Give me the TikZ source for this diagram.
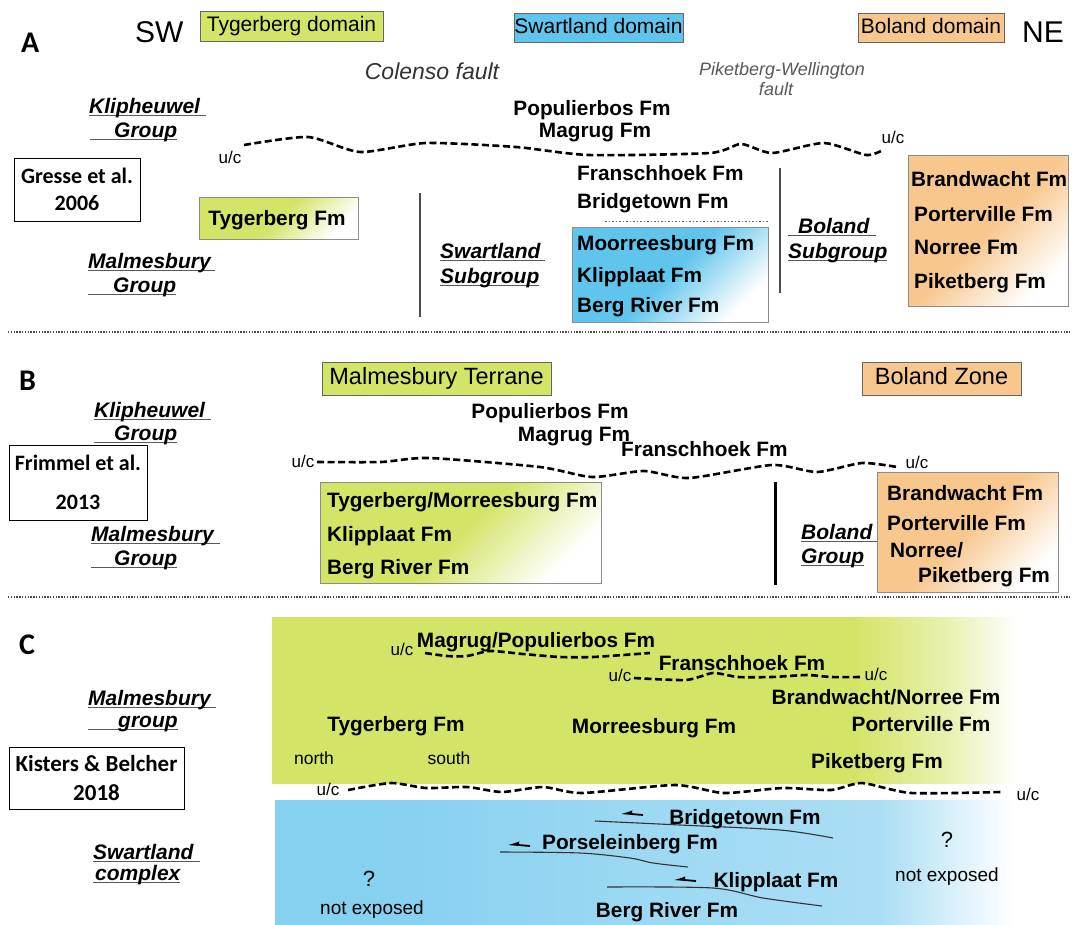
\documentclass[tikz,border=0pt]{standalone}
\usepackage{fontspec}
\setmainfont{Liberation Sans}
\newfontfamily\calfont{Carlito}
\usetikzlibrary{arrows.meta}
\definecolor{tgreen}{RGB}{212,228,102}
\definecolor{sblue}{RGB}{96,197,236}
\definecolor{cblue}{RGB}{134,208,240}
\definecolor{borange}{RGB}{248,199,142}
\pgfdeclarehorizontalshading{greenfade}{100bp}{color(0bp)=(tgreen); color(64bp)=(tgreen); color(70bp)=(tgreen!55!white); color(75bp)=(white); color(100bp)=(white)}
\pgfdeclarehorizontalshading{bluefade}{100bp}{color(0bp)=(cblue); color(32bp)=(cblue); color(52bp)=(cblue!80!white); color(66bp)=(cblue!70!white); color(75bp)=(white); color(100bp)=(white)}
\newcommand\undl[1]{\setbox0\hbox{#1}\rlap{\color{black!65}\rule[-0.16em]{\wd0}{1.3pt}}\box0}

\begin{document}
\begin{tikzpicture}[x=1pt, y=-1pt,
	fm/.style={font=\fontsize{20.8}{24}\selectfont\bfseries, inner sep=0pt},
	grp/.style={font=\fontsize{21}{24}\selectfont\bfseries\itshape, inner sep=0pt, anchor=base west},
	uc/.style={font=\fontsize{17}{20}\selectfont, inner sep=0pt, anchor=base},
	panel/.style={font=\calfont\bfseries\fontsize{30}{36}\selectfont, inner sep=0pt, anchor=base west},
	dir/.style={font=\fontsize{30}{36}\selectfont, inner sep=0pt, anchor=base west},
	dom/.style={draw=black!60, line width=1pt, text height=15pt, text depth=4pt, inner sep=0pt, font=\fontsize{21}{24}\selectfont},
	cite/.style={draw, line width=0.9pt, align=center, inner sep=0pt, font=\calfont\bfseries\fontsize{22}{27}\selectfont},
	fmbox/.style={draw=black!45, line width=0.8pt, top color=#1, bottom color=white, middle color=#1, shading angle=45},
	unc/.style={line width=2.6pt, dash pattern=on 7pt off 3.5pt},
	secsep/.style={black!70, line width=1.3pt, dash pattern=on 1.4pt off 1.4pt},
	thrust/.style={black!80, line width=1.1pt},
	shear/.style={line width=1.8pt, -{Latex[harpoon,swap,length=9pt,width=8pt]}}]
\fill[white] (0,0) rectangle (1073,924);
\useasboundingbox (0,0) rectangle (1073,924);

% A: Gresse et al. 2006
\node[panel] (pa) at (21,52) {A};
\node[dir] (sw) at (135,42) {SW};
\node[dir] (ne) at (1022,42) {NE};
\node[dom, fill=tgreen, minimum width=183pt, minimum height=30pt] (tdom) at (291.5,26) {Tygerberg domain};
\node[dom, fill=sblue, minimum width=169pt, minimum height=29pt] (sdom) at (598.5,27.5) {Swartland domain};
\node[dom, fill=borange, minimum width=146pt, minimum height=29pt] (bdom) at (931,27.5) {Boland domain};
\node[inner sep=0pt, anchor=base, font=\fontsize{23}{27}\selectfont\itshape, black!80] (colenso) at (432,79) {Colenso fault};
\node[inner sep=0pt, anchor=base, font=\fontsize{18}{21}\selectfont\itshape, black!65] (pwf) at (782,75) {Piketberg-Wellington};
\node[inner sep=0pt, anchor=base, font=\fontsize{18}{21}\selectfont\itshape, black!65] (pwfb) at (776,95) {fault};
\node[grp] (kwa) at (89,113) {\undl{Klipheuwel\hspace{6pt}}};
\node[grp] (kwb) at (90,137) {\undl{\hspace{24pt}Group}};
\node[grp] (mba) at (88,268) {\undl{Malmesbury\hspace{4pt}}};
\node[grp] (mbb) at (88,292) {\undl{\hspace{25pt}Group}};
\node[grp] (swsa) at (440,258) {\undl{Swartland\hspace{4pt}}};
\node[grp] (swsb) at (440,283) {\undl{Subgroup}};
\node[grp] (blsa) at (788,233) {\undl{\hspace{10pt}Boland\hspace{7pt}}};
\node[grp] (blsb) at (788,258) {\undl{Subgroup}};
\node[cite, minimum width=126pt, minimum height=63pt] (gresse) at (77,189.5) {Gresse et al.\\2006};
\node[fm, anchor=base] (popa) at (592,115) {Populierbos Fm};
\node[fm, anchor=base] (maga) at (595,137) {Magrug Fm};
\draw[unc] plot[smooth, tension=.4] coordinates {(244,145) (308,137) (360,152) (426,143) (516,147) (589,155) (710,153) (741,144) (772,153) (824,143) (866,155) (883,150)};
\node[uc] (uca) at (230,163) {u/c};
\node[uc] (ucb) at (893,143) {u/c};
\draw[fmbox=tgreen] (199,197) rectangle (358,239);
\node[fm, anchor=base] (tyga) at (277,225) {Tygerberg Fm};
\draw[black!70, line width=1.3pt] (420,193) -- (420,317);
\draw[black!70, line width=1.3pt] (780,168) -- (780,293);
\node[fm, anchor=base west] (frsa) at (577,180) {Franschhoek Fm};
\node[fm, anchor=base west] (brga) at (577,208) {Bridgetown Fm};
\draw[black!60, line width=1pt, dash pattern=on 1.5pt off 2pt] (605,221) -- (769,221);
\draw[fmbox=sblue] (572,227) rectangle (768,322);
\foreach \t/\y [count=\i] in {Moorreesburg Fm/250, Klipplaat Fm/282, Berg River Fm/312}
	\node[fm, anchor=base west] (sa\i) at (577,\y) {\t};
\draw[fmbox=borange] (908,155) rectangle (1068,306);
\foreach \t/\x/\y [count=\i] in {Brandwacht Fm/911/186, Porterville Fm/914/221, Norree Fm/914/254, Piketberg Fm/914/288}
	\node[fm, anchor=base west] (ba\i) at (\x,\y) {\t};
\draw[secsep] (8,332) -- (1070,332);

% B: Frimmel et al. 2013
\node[panel] (pb) at (19,390) {B};
\node[dom, fill=tgreen, minimum width=229pt, minimum height=33pt, font=\fontsize{23.5}{27}\selectfont] (mter) at (436.5,378.5) {Malmesbury Terrane};
\node[dom, fill=borange, minimum width=159pt, minimum height=33pt, font=\fontsize{23.5}{27}\selectfont] (bzone) at (941.5,378.5) {Boland Zone};
\node[grp] (kwc) at (94,417) {\undl{Klipheuwel\hspace{6pt}}};
\node[grp] (kwd) at (94,440) {\undl{\hspace{20pt}Group}};
\node[grp] (mbc) at (91,541) {\undl{Malmesbury\hspace{6pt}}};
\node[grp] (mbd) at (91,565) {\undl{\hspace{23pt}Group}};
\node[grp] (blgb) at (801,539) {\undl{Boland\hspace{5pt}}};
\node[grp] (blgc) at (801,563) {\undl{Group}};
\node[cite, minimum width=138pt, minimum height=75pt] (frimmel) at (78,482.5) {Frimmel et al.\\[12pt]2013};
\node[fm, anchor=base] (popb) at (550,418) {Populierbos Fm};
\node[fm, anchor=base] (magb) at (574,441) {Magrug Fm};
\node[fm, anchor=base west] (frsb) at (621,456) {Franschhoek Fm};
\draw[unc] plot[smooth, tension=.4] coordinates {(317,462) (381,462) (429,458) (540,467) (592,477) (644,471) (689,478) (772,465) (817,472) (862,463) (897,467)};
\node[uc] (ucc) at (303,467) {u/c};
\node[uc] (ucd) at (917,468) {u/c};
\draw[fmbox=tgreen] (320,482) rectangle (601,583);
\foreach \t/\y [count=\i] in {{Tygerberg/Morreesburg Fm}/507, Klipplaat Fm/541, Berg River Fm/574}
	\node[fm, anchor=base west] (mb\i) at (327,\y) {\t};
\draw[line width=3pt] (775,482) -- (775,585);
\draw[fmbox=borange] (877,472) rectangle (1058,592);
\foreach \t/\x/\y [count=\i] in {Brandwacht Fm/887/500, Porterville Fm/887/530, {Norree/}/890/557, Piketberg Fm/918/582}
	\node[fm, anchor=base west] (bb\i) at (\x,\y) {\t};
\draw[secsep] (8,597) -- (1070,597);

% C: Kisters & Belcher 2018
\node[panel] (pc) at (19,654) {C};
\shade[shading=greenfade] (272,617) rectangle (1018,783);
\shade[shading=bluefade] (275,800) rectangle (1013,924);
\node[grp] (mbe) at (88,705) {\undl{Malmesbury\hspace{5pt}}};
\node[grp] (mbf) at (88,727) {\undl{\hspace{30pt}group}};
\node[grp] (swc) at (93,859) {\undl{Swartland\hspace{6pt}}};
\node[grp] (swd) at (93,880) {\undl{\hspace{2pt}complex}};
\node[cite, minimum width=175pt, minimum height=62pt, font=\calfont\bfseries\fontsize{23}{27}\selectfont] (kisters) at (96.5,778) {Kisters \& Belcher\\[2pt]2018};
\node[fm, anchor=base] (mpop) at (536,647) {Magrug/Populierbos Fm};
\draw[unc] plot[smooth, tension=.4] coordinates {(425,653) (447,656) (467,656) (490,651) (523,654) (560,657) (593,657) (650,653)};
\node[uc] (uce) at (402,655) {u/c};
\node[fm, anchor=base] (frsc) at (742,670) {Franschhoek Fm};
\draw[unc] plot[smooth, tension=.4] coordinates {(634,678) (686,680) (713,673) (738,677) (772,677) (807,675) (831,677) (862,677)};
\node[uc] (ucf) at (620,681) {u/c};
\node[uc] (ucg) at (876,680) {u/c};
\node[fm, anchor=base] (bnc) at (886,704) {Brandwacht/Norree Fm};
\node[fm, anchor=base] (tygc) at (396,731) {Tygerberg Fm};
\node[fm, anchor=base] (morc) at (654,733) {Morreesburg Fm};
\node[fm, anchor=base] (porc) at (921,731) {Porterville Fm};
\node[fm, anchor=base] (pikc) at (877,768) {Piketberg Fm};
\node[uc, font=\fontsize{17.5}{20}\selectfont] (north) at (314,764) {north};
\node[uc, font=\fontsize{17.5}{20}\selectfont] (south) at (449,764) {south};
\draw[unc] plot[smooth, tension=.4] coordinates {(348,790) (391,783) (426,788) (467,787) (502,792) (543,787) (582,793) (675,785) (724,793) (783,788) (831,790) (862,783) (911,793) (1001,792)};
\node[uc] (uch) at (328,795) {u/c};
\node[uc] (uci) at (1028,800) {u/c};
\draw[thrust] plot[smooth] coordinates {(595,821) (680,825) (780,830) (833,838)};
\draw[thrust] plot[smooth] coordinates {(500,852) (580,853) (630,858) (653,863) (688,867)};
\draw[thrust] plot[smooth] coordinates {(607,887) (713,888) (763,898) (822,906)};
\draw[shear] (643,815) -- (620,813);
\draw[shear] (530,846) -- (507,844);
\draw[shear] (696,881) -- (673,879);
\node[fm, anchor=base] (brgc) at (745,824) {Bridgetown Fm};
\node[fm, anchor=base] (porsc) at (630,849) {Porseleinberg Fm};
\node[fm, anchor=base] (klpc) at (776,887) {Klipplaat Fm};
\node[fm, anchor=base] (bgrc) at (667,917) {Berg River Fm};
\node[uc, font=\fontsize{22}{26}\selectfont] (qa) at (947,847) {?};
\node[uc, font=\fontsize{19}{22}\selectfont] (nea) at (947,881) {not exposed};
\node[uc, font=\fontsize{22}{26}\selectfont] (qb) at (369,886) {?};
\node[uc, font=\fontsize{19}{22}\selectfont] (neb) at (372,914) {not exposed};
\end{tikzpicture}
\end{document}
